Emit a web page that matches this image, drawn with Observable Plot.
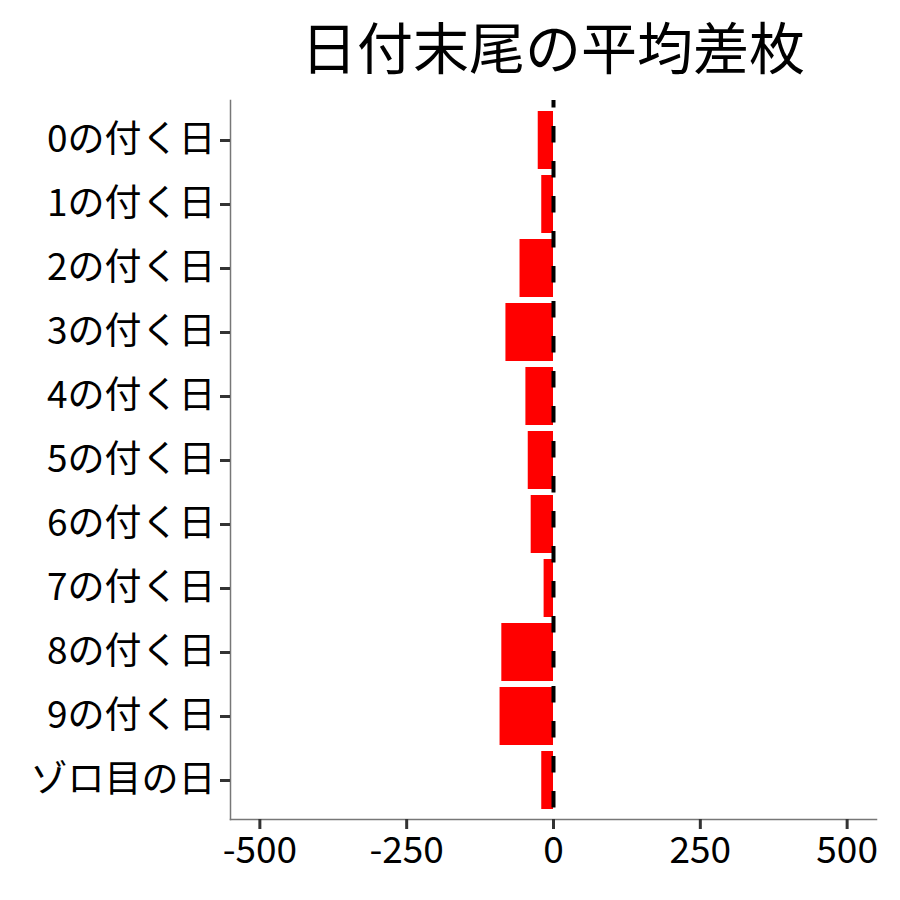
<!DOCTYPE html>
<html>
<head>
<meta charset="utf-8">
<script src="https://cdn.jsdelivr.net/npm/d3@7"></script>
<script src="https://cdn.jsdelivr.net/npm/@observablehq/plot@0.6"></script>
<style>
  html, body { margin: 0; padding: 0; background: #fff; }
  #title {
    height: 90px; line-height: 90px;
    padding-left: 230px; padding-right: 24px;
    text-align: center;
    font-family: "Noto Sans CJK JP", sans-serif;
    font-size: 56px; color: #000;
    white-space: nowrap;
  }
  #chart svg { display: block; }
</style>
</head>
<body>
<div id="title">日付末尾の平均差枚</div>
<div id="chart"></div>
<script>
const categories = ["0の付く日","1の付く日","2の付く日","3の付く日","4の付く日","5の付く日","6の付く日","7の付く日","8の付く日","9の付く日","ゾロ目の日"];
const values = [-26, -20, -57, -81, -47, -43, -38, -16, -88, -91, -20];
const xTicks = [-500, -250, 0, 250, 500];

const data = categories.map((c, i) => ({label: c, value: values[i]}));

const chart = Plot.plot({
  width: 900,
  height: 810,
  marginTop: 10,
  marginBottom: 81,
  marginLeft: 230,
  marginRight: 24,
  style: {fontFamily: "'Noto Sans CJK JP', sans-serif", fontSize: "37px", color: "#000", background: "#fff"},
  x: {domain: [-550, 550], ticks: xTicks, tickFormat: d => String(d), label: null},
  y: {domain: categories, paddingInner: 0.1, paddingOuter: 0.15, label: null},
  marks: [
    Plot.barX(data, {x: "value", y: "label", fill: "#ff0000"}),
    Plot.ruleX([0], {stroke: "#000", strokeWidth: 4, strokeDasharray: "16.5,18.5", strokeDashoffset: 9}),
    Plot.frame({anchor: "left", stroke: "#777", strokeWidth: 1.5}),
    Plot.frame({anchor: "bottom", stroke: "#777", strokeWidth: 1.5}),
    Plot.axisY({tickSize: 10, tickPadding: 5, stroke: "#333", strokeWidth: 3, fill: "#000", label: null}),
    Plot.axisX({ticks: xTicks, tickFormat: d => String(d), tickSize: 10, tickPadding: 7, stroke: "#333", strokeWidth: 3, fill: "#000", label: null})
  ]
});
document.getElementById("chart").appendChild(chart);
</script>
</body>
</html>
